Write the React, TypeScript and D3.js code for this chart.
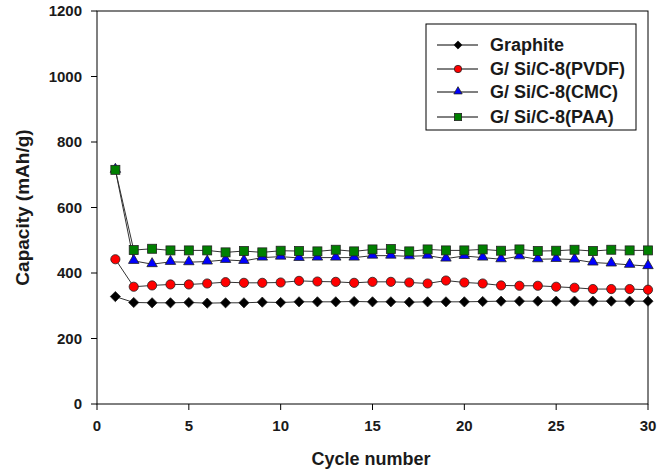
import React from "react";
import * as d3 from "d3";

// Cycle index 1..30
const cycles: number[] = Array.from({ length: 30 }, (_, i) => i + 1);

const graphite: number[] = [
  328, 310, 309, 309, 310, 308, 309, 309, 311, 310,
  312, 312, 312, 313, 312, 312, 311, 312, 312, 312,
  313, 314, 314, 314, 314, 314, 314, 314, 314, 314,
];
const pvdf: number[] = [
  442, 358, 362, 365, 365, 368, 372, 370, 370, 371,
  376, 374, 373, 370, 373, 373, 371, 368, 377, 371,
  368, 362, 361, 361, 358, 355, 351, 351, 351, 349,
];
const cmc: number[] = [
  715, 437, 427, 434, 433, 435, 440, 437, 447, 450,
  446, 447, 447, 447, 453, 453, 451, 453, 444, 452,
  447, 442, 451, 442, 443, 441, 432, 429, 425, 421,
];
const paa: number[] = [
  715, 470, 474, 469, 469, 469, 463, 467, 463, 468,
  467, 466, 471, 466, 472, 473, 466, 472, 469, 469,
  472, 468, 472, 467, 468, 471, 467, 471, 469, 469,
];

const seriesNames: string[] = [
  "Graphite",
  "G/ Si/C-8(PVDF)",
  "G/ Si/C-8(CMC)",
  "G/ Si/C-8(PAA)",
];
const seriesColors: string[] = ["#000000", "#ff0000", "#0000ff", "#008000"];
const seriesShapes: string[] = ["diamond", "circle", "triangle", "square"];
const seriesValues: number[][] = [graphite, pvdf, cmc, paa];

const xTicks: number[] = [0, 5, 10, 15, 20, 25, 30];
const yTicks: number[] = [0, 200, 400, 600, 800, 1000, 1200];

const W = 671;
const H = 472;
const FONT = "'Liberation Sans', Arial, sans-serif";

const left = 97;
const right = 648;
const top = 11;
const bottom = 404;

function Marker({
  shape,
  x,
  y,
  color,
  k = 1,
}: {
  shape: string;
  x: number;
  y: number;
  color: string;
  k?: number;
}) {
  const sw = 0.8;
  if (shape === "circle") {
    return <circle cx={x} cy={y} r={4.6 * k} fill={color} stroke="#222" strokeWidth={sw} />;
  }
  if (shape === "square") {
    const s = 9 * k;
    return <rect x={x - s / 2} y={y - s / 2} width={s} height={s} fill={color} stroke="#222" strokeWidth={sw} />;
  }
  const sym =
    shape === "diamond"
      ? d3.symbol(d3.symbolDiamond2, 66 * k * k)
      : d3.symbol(d3.symbolTriangle2, 78 * k * k);
  return (
    <path
      d={sym() as string}
      transform={`translate(${x},${shape === "triangle" ? y - 0.5 : y})`}
      fill={color}
      stroke="#222"
      strokeWidth={sw}
    />
  );
}

export default function App() {
  const x = d3.scaleLinear().domain([0, 30]).range([left, right]);
  const y = d3.scaleLinear().domain([0, 1200]).range([bottom, top]);
  const line = d3
    .line<number>()
    .x((_, i) => x(cycles[i]))
    .y((d) => y(d));

  const legX = 426;
  const legY = 24;
  const legRows = [45, 69, 92, 117];

  return (
    <svg
      width={W}
      height={H}
      style={{ position: "absolute", left: 0, top: 0, background: "#fff" }}
      fontFamily={FONT}
    >
      {/* frame */}
      <rect x={left} y={top} width={right - left} height={bottom - top} fill="none" stroke="#000" strokeWidth={1} />

      {/* y axis */}
      {yTicks.map((t) => (
        <g key={`y${t}`}>
          <line x1={left - 6} x2={left} y1={y(t)} y2={y(t)} stroke="#000" />
          <text
            x={82}
            y={y(t)}
            dy="0.35em"
            textAnchor="end"
            fontSize={15}
            fontWeight="bold"
            fill="#1a1a1a"
          >
            {t}
          </text>
        </g>
      ))}

      {/* x axis */}
      {xTicks.map((t) => (
        <g key={`x${t}`}>
          <line x1={x(t)} x2={x(t)} y1={bottom} y2={bottom + 6} stroke="#000" />
          <text
            x={x(t)}
            y={bottom + 27}
            textAnchor="middle"
            fontSize={15}
            fontWeight="bold"
            fill="#1a1a1a"
          >
            {t}
          </text>
        </g>
      ))}

      <text x={371} y={465} textAnchor="middle" fontSize={18} fontWeight="bold" fill="#1a1a1a">
        Cycle number
      </text>
      <text
        transform={`translate(29,${(top + bottom) / 2}) rotate(-90)`}
        textAnchor="middle"
        fontSize={19}
        fontWeight="bold"
        fill="#1a1a1a"
      >
        Capacity (mAh/g)
      </text>

      {/* series lines */}
      {seriesValues.map((vals, si) => (
        <path key={`l${si}`} d={line(vals) as string} fill="none" stroke="#333" strokeWidth={1} />
      ))}
      {/* series markers */}
      {seriesValues.map((vals, si) => (
        <g key={`m${si}`}>
          {vals.map((v, i) => (
            <Marker key={i} shape={seriesShapes[si]} x={x(cycles[i])} y={y(v)} color={seriesColors[si]} />
          ))}
        </g>
      ))}

      {/* legend */}
      <rect x={legX} y={legY} width={210} height={106} fill="#fff" stroke="#000" strokeWidth={1} />
      {seriesNames.map((name, i) => (
        <g key={name}>
          <line x1={437} x2={478} y1={legRows[i]} y2={legRows[i]} stroke="#000" />
          <Marker shape={seriesShapes[i]} x={458} y={legRows[i]} color={seriesColors[i]} k={0.8} />
          <text x={490} y={legRows[i]} dy="0.35em" fontSize={18} fontWeight="bold" fill="#1a1a1a">
            {name}
          </text>
        </g>
      ))}
    </svg>
  );
}
